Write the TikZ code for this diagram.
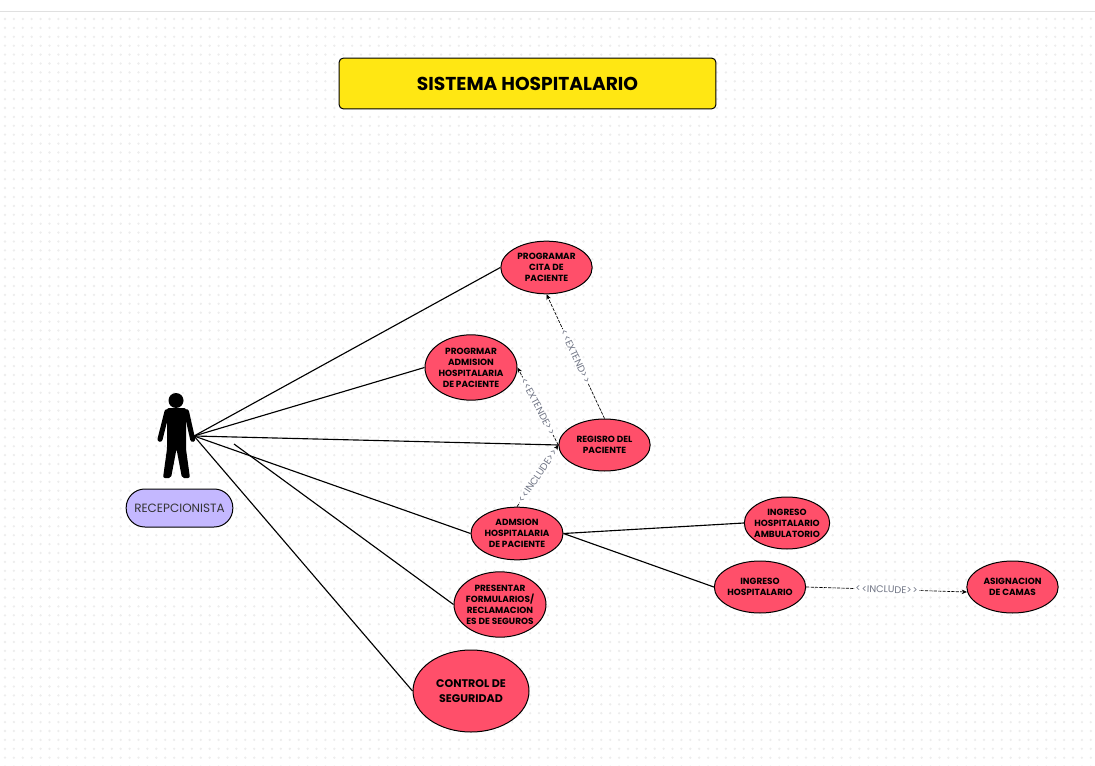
\documentclass[tikz,border=0pt]{standalone}
\usepackage{fontspec}
\setmainfont{Poppins}
\usetikzlibrary{arrows.meta,shapes.geometric}
\definecolor{uc}{HTML}{FF4F6A}
\definecolor{ttl}{HTML}{FFE713}
\definecolor{lav}{HTML}{C4B8FF}
\definecolor{dotc}{HTML}{EDEDED}
\definecolor{lblc}{HTML}{6F7484}
\tikzset{x=0.75pt,y=-0.75pt,
 ucase/.style={draw=black,line width=0.75pt,fill=uc,shape=ellipse,font=\fontsize{6.7}{8.3}\selectfont\bfseries,align=center,inner xsep=-14pt,inner ysep=-10pt},
 assoc/.style={draw=black,line width=0.85pt},
 dep/.style={draw=black,line width=0.5pt,dash pattern=on 2.4pt off 0.9pt,-{Stealth[length=4pt,width=3.4pt]}},
 lbl/.style={font=\fontsize{7.3}{8}\selectfont,text=lblc,fill=white,inner sep=0.8pt,sloped},
 dotrow/.style={draw=dotc,line width=1.9pt,line cap=round,dash pattern=on 0pt off 6.675pt}
}
\newcommand{\ltlt}{{<}\kern0.6pt{<}}
\newcommand{\gtgt}{{>}\kern0.6pt{>}}
\begin{document}
\begin{tikzpicture}
\useasboundingbox (0,0) rectangle (1095,766);
\fill[white] (0,0) rectangle (1095,766);
\foreach \j in {0,...,84} {\draw[dotrow] (5,{19+8.9*\j}) -- (1095,{19+8.9*\j});}
\draw[color=black!12,line width=0.8pt] (0,11.5) -- (1095,11.5);

\node[draw=black,line width=0.75pt,fill=ttl,rounded corners=3pt,minimum width=282.5pt,minimum height=38pt,inner sep=0pt,font=\fontsize{14}{16}\selectfont\bfseries] (title) at (527.5,83.5) {SISTEMA HOSPITALARIO};

% actor
\fill[black] (176,400.5) circle[radius=7.5];
\fill[black,rounded corners=1.5pt] (167,408) -- (186,408) -- (186,423) -- (186,449) -- (190,478) -- (182,478) -- (176.5,449) -- (171,478) -- (163,478) -- (167,449) -- (167,423) -- cycle;
\draw[black,line width=3.8pt,line cap=round,line join=round] (167,411.7) -- (160,439.3);
\draw[black,line width=3.8pt,line cap=round,line join=round] (186.5,411.7) -- (192.7,439.3);
\coordinate (actor) at (194,436);
\coordinate (stray) at (234,444);

\node[draw=black,line width=0.75pt,fill=lav,rounded corners=14pt,minimum width=80pt,minimum height=28.5pt,inner sep=0pt,font=\fontsize{9}{10}\selectfont,text=black!80] (rec) at (179.5,508) {RECEPCIONISTA};

\node[ucase,minimum width=68.5pt,minimum height=39.5pt] (prog) at (546.5,267.5) {PROGRAMAR\\CITA DE\\PACIENTE};
\node[ucase,minimum width=69pt,minimum height=49pt] (adm) at (471,367.5) {PROGRMAR\\ADMISION\\HOSPITALARIA\\DE PACIENTE};
\node[ucase,minimum width=68.5pt,minimum height=39pt] (reg) at (604.5,445) {REGISRO DEL\\PACIENTE};
\node[ucase,minimum width=69pt,minimum height=39.5pt] (admi) at (517,533.5) {ADMSION\\HOSPITALARIA\\DE PACIENTE};
\node[ucase,minimum width=69pt,minimum height=49pt] (pres) at (500,604.5) {PRESENTAR\\FORMULARIOS/\\RECLAMACION\\ES DE SEGUROS};
\node[ucase,minimum width=87pt,minimum height=61.5pt,font=\fontsize{8.3}{11.3}\selectfont\bfseries] (ctrl) at (471,691) {CONTROL DE\\SEGURIDAD};
\node[ucase,minimum width=64pt,minimum height=39pt] (amb) at (787,523) {INGRESO\\HOSPITALARIO\\AMBULATORIO};
\node[ucase,minimum width=68.5pt,minimum height=39pt] (hosp) at (760,587) {INGRESO\\HOSPITALARIO};
\node[ucase,minimum width=68.5pt,minimum height=39pt] (asig) at (1012.5,587) {ASIGNACION\\DE CAMAS};

\draw[assoc] (actor) -- (prog.west);
\draw[assoc] (actor) -- (adm.west);
\draw[assoc] (actor) -- (reg.west);
\draw[assoc] (actor) -- (admi.west);
\draw[assoc] (actor) -- (ctrl.west);
\draw[assoc] (stray) -- (pres.west);
\draw[assoc] (admi.east) -- (amb.west);
\draw[assoc] (admi.east) -- (hosp.west);

\draw[dep] (reg.north) -- node[lbl,pos=0.5] (l1) {\ltlt EXTEND\gtgt} (prog.south);
\draw[dep] (reg.west) -- node[lbl,pos=0.5] (l2) {\ltlt EXTENDE\gtgt} (adm.east);
\draw[dep] (admi.north) -- node[lbl,pos=0.5] (l3) {\ltlt INCLUDE\gtgt} (reg.west);
\coordinate (asigin) at (967,592);
\draw[dep] (hosp.east) -- node[lbl,pos=0.5] (l4) {\ltlt INCLUDE\gtgt} (asigin);
\end{tikzpicture}
\end{document}
